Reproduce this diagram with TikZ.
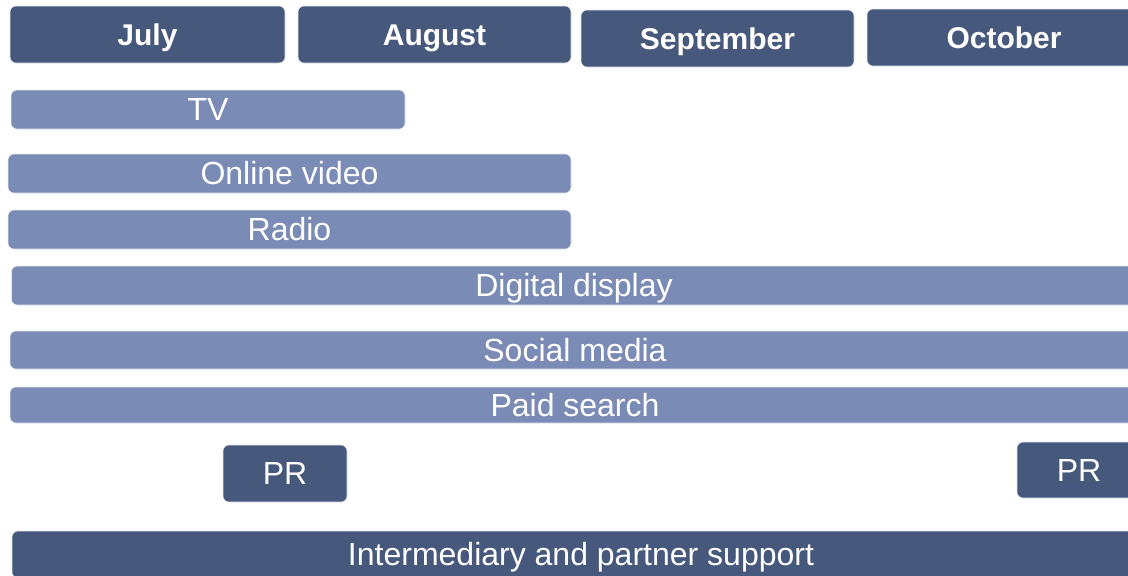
\documentclass[tikz,border=0pt]{standalone}
\usepackage{fontspec}
\setmainfont{Liberation Sans}
\definecolor{navy}{RGB}{70,89,125}
\definecolor{slate}{RGB}{122,140,181}
\tikzset{
    bar/.style={rectangle, rounded corners=4.5pt, draw=white!80!slate,
        line width=0.4pt, text=white, inner sep=0pt, text depth=0pt},
    monthbox/.style={bar, fill=navy, text height=16pt,
        font=\fontsize{22.5}{27}\selectfont\bfseries},
    mediabar/.style={bar, fill=slate, text height=17.2pt,
        font=\fontsize{24}{28}\selectfont},
    darkbar/.style={bar, fill=navy, text height=17.2pt,
        font=\fontsize{24}{28}\selectfont},
}
\begin{document}
\begin{tikzpicture}[x=0.75pt, y=-0.75pt]
    \useasboundingbox (0, 0) rectangle (1128, 575);
    \clip (0, 0) rectangle (1128, 575);
    % months along the top
    \node[monthbox, minimum width=206.25pt, minimum height=42.75pt] (jul) at(147.5, 34.5) {July};
    \node[monthbox, minimum width=204.75pt, minimum height=42.75pt] (aug) at(434.5, 34.5) {August};
    \node[monthbox, minimum width=204.75pt, minimum height=42.75pt] (sep) at(717.5, 38.5) {September};
    \node[monthbox, minimum width=205.5pt, minimum height=42.75pt] (oct) at(1004, 37.5) {October};
    % media channels
    \node[mediabar, minimum width=295.5pt, minimum height=29.25pt] (tv) at(208, 109.5) {TV};
    \node[mediabar, minimum width=422.25pt, minimum height=29.25pt] (video) at(289.5, 173.5) {Online video};
    \node[mediabar, minimum width=422.25pt, minimum height=29.25pt] (radio) at(289.5, 229.5) {Radio};
    \node[mediabar, minimum width=843.75pt, minimum height=29.25pt] (display) at(574, 285.5) {Digital display};
    \node[mediabar, minimum width=847.5pt, minimum height=28.5pt] (social) at(575, 350) {Social media};
    \node[mediabar, minimum width=847.5pt, minimum height=27pt] (search) at(575, 405) {Paid search};
    % PR bursts
    \node[darkbar, minimum width=93pt, minimum height=42.75pt] (pr1) at(285, 473.5) {PR};
    \node[darkbar, minimum width=93pt, minimum height=42pt] (pr2) at(1079, 470) {PR};
    % runs under everything
    \node[darkbar, minimum width=853.5pt, minimum height=35.25pt] (partner) at(581, 554.5) {Intermediary and partner support};
\end{tikzpicture}
\end{document}
